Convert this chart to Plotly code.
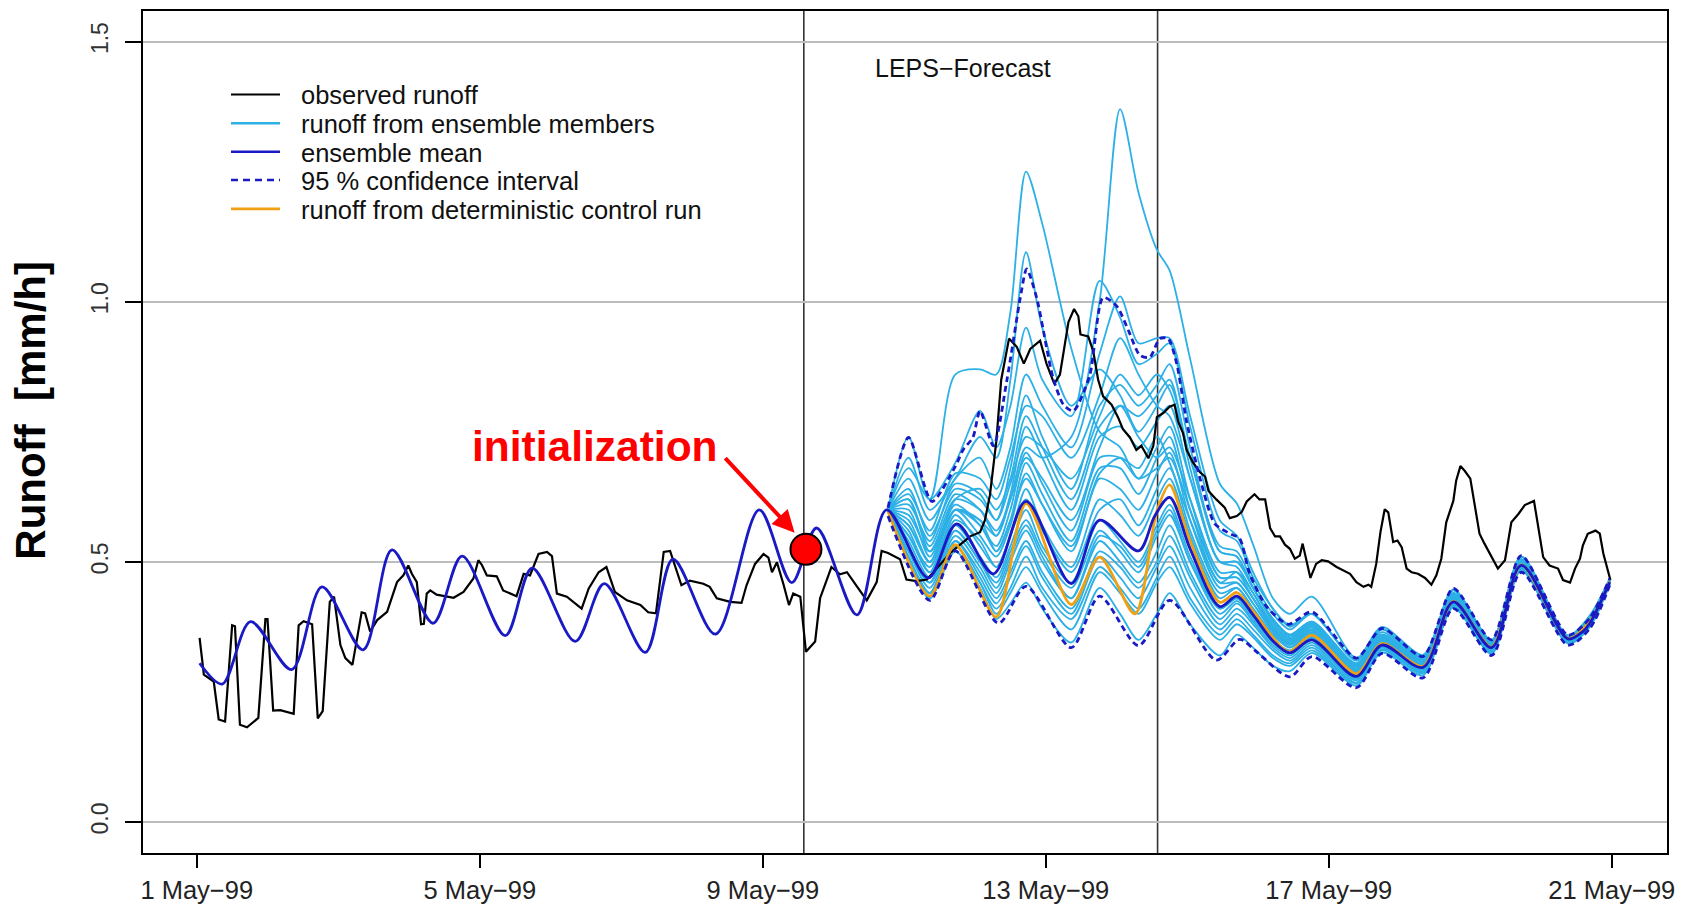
import plotly.graph_objects as go

# ---------------- data (x = days since 1 May 1999 00:00) ----------------
obs_days = [0.04, 0.10, 0.24, 0.31, 0.40, 0.50, 0.54, 0.61, 0.71, 0.87, 0.97, 1.00, 1.08, 1.18, 1.37, 1.44, 1.51, 1.63,
            1.71, 1.78, 1.88, 1.94, 2.03, 2.10, 2.20, 2.29, 2.33, 2.38, 2.45, 2.55, 2.69, 2.83, 2.92, 2.99, 3.04, 3.11,
            3.17, 3.21, 3.25, 3.30, 3.39, 3.63, 3.77, 3.91, 3.98, 4.03, 4.10, 4.24, 4.33, 4.52, 4.62, 4.71, 4.83, 4.95,
            5.02, 5.09, 5.23, 5.44, 5.54, 5.68, 5.79, 5.91, 6.08, 6.27, 6.38, 6.49, 6.60, 6.69, 6.74, 6.85, 6.97, 7.16,
            7.25, 7.35, 7.54, 7.70, 7.77, 7.89, 8.01, 8.08, 8.13, 8.20, 8.29, 8.37, 8.43, 8.53, 8.61, 8.74, 8.81, 8.97,
            9.09, 9.19, 9.33, 9.47, 9.61, 9.68, 9.77, 9.94, 10.03, 10.17, 10.32, 10.50, 10.65, 10.79, 10.93, 11.07,
            11.14, 11.21, 11.30, 11.37, 11.48, 11.59, 11.69, 11.78, 11.85, 11.92, 12.01, 12.12, 12.20, 12.32, 12.40,
            12.46, 12.49, 12.60, 12.67, 12.74, 12.81, 12.93, 13.02, 13.09, 13.19, 13.28, 13.35, 13.45, 13.52, 13.57,
            13.66, 13.75, 13.82, 13.87, 13.94, 13.99, 14.08, 14.18, 14.25, 14.30, 14.41, 14.53, 14.60, 14.70, 14.77,
            14.84, 14.95, 15.02, 15.10, 15.17, 15.24, 15.31, 15.38, 15.45, 15.52, 15.59, 15.63, 15.68, 15.74, 15.82,
            15.90, 15.99, 16.11, 16.30, 16.39, 16.49, 16.56, 16.60, 16.67, 16.73, 16.79, 16.84, 16.91, 16.97, 17.03,
            17.10, 17.17, 17.26, 17.36, 17.45, 17.52, 17.59, 17.66, 17.76, 17.80, 17.86, 17.92, 18.00, 18.06, 18.13,
            18.20, 18.30, 18.39, 18.49, 18.58, 18.68, 18.77, 18.90, 18.96, 19.03, 19.12, 19.24, 19.31, 19.41, 19.48,
            19.55, 19.59, 19.66, 19.77, 19.83, 19.88, 19.93, 19.98]
obs_runoff = [0.354, 0.283, 0.270, 0.197, 0.193, 0.378, 0.376, 0.187, 0.182, 0.200, 0.390, 0.390, 0.214, 0.215, 0.208,
              0.378, 0.386, 0.380, 0.199, 0.213, 0.423, 0.433, 0.340, 0.315, 0.302, 0.378, 0.403, 0.401, 0.366, 0.388,
              0.404, 0.461, 0.474, 0.493, 0.477, 0.461, 0.380, 0.381, 0.439, 0.445, 0.437, 0.431, 0.442, 0.468, 0.503,
              0.494, 0.474, 0.472, 0.445, 0.434, 0.477, 0.474, 0.515, 0.519, 0.511, 0.439, 0.433, 0.410, 0.449, 0.480,
              0.490, 0.442, 0.426, 0.417, 0.403, 0.401, 0.519, 0.521, 0.500, 0.455, 0.464, 0.458, 0.452, 0.430, 0.423,
              0.421, 0.455, 0.496, 0.515, 0.508, 0.480, 0.499, 0.458, 0.417, 0.439, 0.433, 0.327, 0.347, 0.430, 0.490,
              0.476, 0.480, 0.453, 0.426, 0.461, 0.521, 0.517, 0.505, 0.466, 0.463, 0.466, 0.493, 0.517, 0.533, 0.549,
              0.557, 0.580, 0.628, 0.731, 0.850, 0.929, 0.913, 0.881, 0.909, 0.917, 0.925, 0.881, 0.842, 0.860, 0.961,
              0.986, 0.972, 0.937, 0.933, 0.905, 0.850, 0.818, 0.802, 0.778, 0.755, 0.739, 0.715, 0.723, 0.699, 0.723,
              0.778, 0.786, 0.798, 0.802, 0.770, 0.747, 0.715, 0.691, 0.672, 0.664, 0.636, 0.620, 0.604, 0.584, 0.588,
              0.596, 0.616, 0.630, 0.620, 0.620, 0.565, 0.549, 0.549, 0.533, 0.525, 0.506, 0.512, 0.535, 0.506, 0.469,
              0.496, 0.503, 0.501, 0.490, 0.477, 0.461, 0.452, 0.456, 0.452, 0.496, 0.557, 0.601, 0.595, 0.538, 0.541,
              0.528, 0.487, 0.480, 0.477, 0.469, 0.456, 0.474, 0.506, 0.576, 0.617, 0.656, 0.684, 0.675, 0.660, 0.614,
              0.554, 0.535, 0.509, 0.487, 0.503, 0.576, 0.592, 0.609, 0.617, 0.566, 0.509, 0.493, 0.487, 0.465, 0.460,
              0.487, 0.506, 0.531, 0.554, 0.560, 0.554, 0.516, 0.493, 0.465]

mean_days = [0.04, 0.36, 0.76, 1.34, 1.77, 2.35, 2.76, 3.34, 3.75, 4.36, 4.74, 5.35, 5.76, 6.34, 6.73, 7.33, 7.95,
             8.41, 8.76, 9.33, 9.75, 10.34, 10.74, 11.26, 11.72, 12.36, 12.76, 13.31, 13.54, 13.75, 14.04, 14.46,
             14.70, 14.93, 15.21, 15.45, 15.76, 16.39, 16.75, 17.33, 17.76, 18.30, 18.72, 19.38, 19.59, 19.69, 19.97]
mean_runoff = [0.305, 0.265, 0.385, 0.293, 0.452, 0.331, 0.523, 0.382, 0.511, 0.358, 0.488, 0.347, 0.458, 0.326,
               0.505, 0.361, 0.600, 0.460, 0.565, 0.398, 0.600, 0.469, 0.573, 0.477, 0.616, 0.458, 0.580, 0.521,
               0.588, 0.624, 0.525, 0.414, 0.434, 0.398, 0.348, 0.325, 0.350, 0.280, 0.340, 0.297, 0.423, 0.335,
               0.493, 0.352, 0.366, 0.382, 0.461]

ci_upper_days = [9.77, 10.06, 10.39, 10.72, 10.83, 10.97, 11.07, 11.26, 11.45, 11.64, 11.73, 11.87, 12.10, 12.25,
                 12.39, 12.62, 12.81, 13.00, 13.17, 13.33, 13.47, 13.61, 13.73, 13.85, 13.99, 14.18, 14.39, 14.62,
                 14.74, 14.88, 15.12, 15.43, 15.76, 16.39, 16.75, 17.33, 17.76, 18.30, 18.72, 19.38, 19.69, 19.97]
ci_upper = [0.604, 0.739, 0.616, 0.683, 0.715, 0.739, 0.790, 0.723, 0.849, 1.008, 1.063, 1.008, 0.855, 0.802,
            0.790, 0.858, 1.008, 0.992, 0.944, 0.897, 0.893, 0.929, 0.929, 0.881, 0.770, 0.660, 0.573, 0.553,
            0.545, 0.478, 0.414, 0.380, 0.404, 0.315, 0.372, 0.318, 0.449, 0.350, 0.512, 0.359, 0.392, 0.468]

ci_lower_days = [9.77, 10.36, 10.72, 11.33, 11.72, 12.36, 12.76, 13.31, 13.75, 14.41, 14.74, 14.98, 15.45, 15.76,
                 16.39, 16.75, 17.33, 17.76, 18.30, 18.72, 19.38, 19.69, 19.97]
ci_lower = [0.588, 0.426, 0.521, 0.382, 0.453, 0.335, 0.434, 0.339, 0.426, 0.311, 0.351, 0.327, 0.279, 0.318,
            0.258, 0.324, 0.277, 0.410, 0.320, 0.480, 0.340, 0.372, 0.455]

control_days = [9.77, 10.36, 10.72, 11.30, 11.72, 12.36, 12.76, 13.26, 13.57, 13.75, 14.04, 14.46, 14.70, 14.93,
                15.43, 15.76, 16.39, 16.75, 17.33, 17.76, 18.30, 18.72, 19.38, 19.69, 19.97]
control_runoff = [0.597, 0.434, 0.533, 0.394, 0.612, 0.418, 0.509, 0.400, 0.598, 0.648, 0.540, 0.422, 0.441, 0.405,
                  0.327, 0.359, 0.285, 0.343, 0.299, 0.424, 0.336, 0.494, 0.353, 0.386, 0.462]

member_days = [9.77, 10.06, 10.36, 10.72, 11.07, 11.30, 11.50, 11.72, 11.95, 12.36, 12.76, 13.05, 13.31, 13.57,
               13.75, 14.04, 14.46, 14.70, 14.93, 15.21, 15.45, 15.76, 16.39, 16.75, 17.33, 17.76, 18.30, 18.72,
               19.38, 19.69, 19.97]
ensemble_members = [
    [0.60, 0.62, 0.52, 0.60, 0.58, 0.55, 0.62, 0.72, 0.70, 0.74, 1.00, 1.37, 1.21, 1.10, 1.06, 0.89, 0.65, 0.612, 0.533, 0.43, 0.40, 0.433, 0.315, 0.375, 0.321, 0.44, 0.345, 0.505, 0.355, 0.39, 0.465],
    [0.60, 0.68, 0.62, 0.86, 0.87, 0.86, 0.98, 1.25, 1.15, 0.91, 0.75, 0.72, 0.66, 0.68, 0.70, 0.60, 0.47, 0.47, 0.43, 0.37, 0.345, 0.37, 0.29, 0.35, 0.305, 0.43, 0.34, 0.50, 0.355, 0.39, 0.463],
    [0.60, 0.70, 0.60, 0.66, 0.74, 0.70, 0.85, 1.095, 0.95, 0.80, 0.87, 0.82, 0.75, 0.80, 0.84, 0.70, 0.53, 0.52, 0.46, 0.40, 0.37, 0.40, 0.31, 0.365, 0.315, 0.445, 0.348, 0.51, 0.358, 0.395, 0.466],
    [0.60, 0.74, 0.62, 0.69, 0.79, 0.72, 0.80, 0.95, 0.85, 0.78, 1.04, 0.97, 0.88, 0.90, 0.92, 0.76, 0.56, 0.54, 0.47, 0.41, 0.375, 0.40, 0.312, 0.37, 0.317, 0.447, 0.349, 0.51, 0.358, 0.397, 0.467],
    [0.60, 0.66, 0.58, 0.66, 0.70, 0.64, 0.72, 0.86, 0.80, 0.72, 0.90, 1.01, 0.92, 0.93, 0.93, 0.78, 0.58, 0.55, 0.48, 0.41, 0.378, 0.40, 0.312, 0.37, 0.317, 0.446, 0.349, 0.51, 0.358, 0.396, 0.467],
    [0.60, 0.64, 0.55, 0.64, 0.62, 0.58, 0.68, 0.82, 0.74, 0.64, 0.80, 0.84, 0.80, 0.84, 0.88, 0.72, 0.52, 0.51, 0.45, 0.39, 0.36, 0.385, 0.305, 0.36, 0.312, 0.44, 0.345, 0.505, 0.355, 0.392, 0.464],
    [0.60, 0.62, 0.53, 0.63, 0.60, 0.55, 0.63, 0.76, 0.70, 0.60, 0.74, 0.76, 0.72, 0.77, 0.80, 0.66, 0.50, 0.49, 0.44, 0.38, 0.352, 0.378, 0.30, 0.355, 0.308, 0.436, 0.342, 0.502, 0.354, 0.39, 0.463],
    [0.60, 0.60, 0.51, 0.61, 0.57, 0.53, 0.60, 0.71, 0.65, 0.56, 0.70, 0.70, 0.66, 0.72, 0.76, 0.62, 0.47, 0.47, 0.43, 0.37, 0.345, 0.37, 0.295, 0.352, 0.305, 0.432, 0.34, 0.50, 0.353, 0.388, 0.462],
    [0.60, 0.58, 0.50, 0.60, 0.55, 0.51, 0.57, 0.67, 0.61, 0.52, 0.66, 0.64, 0.60, 0.67, 0.71, 0.58, 0.45, 0.46, 0.42, 0.365, 0.34, 0.365, 0.29, 0.348, 0.302, 0.43, 0.338, 0.498, 0.352, 0.386, 0.462],
    [0.60, 0.56, 0.48, 0.59, 0.53, 0.49, 0.55, 0.64, 0.57, 0.49, 0.62, 0.59, 0.55, 0.62, 0.66, 0.55, 0.43, 0.45, 0.41, 0.36, 0.335, 0.36, 0.285, 0.345, 0.30, 0.427, 0.336, 0.496, 0.351, 0.385, 0.461],
    [0.60, 0.54, 0.47, 0.57, 0.51, 0.47, 0.53, 0.60, 0.53, 0.46, 0.58, 0.54, 0.50, 0.57, 0.61, 0.51, 0.41, 0.43, 0.40, 0.35, 0.328, 0.355, 0.282, 0.342, 0.298, 0.425, 0.335, 0.494, 0.35, 0.384, 0.46],
    [0.60, 0.52, 0.45, 0.55, 0.49, 0.44, 0.50, 0.56, 0.50, 0.43, 0.54, 0.50, 0.46, 0.52, 0.57, 0.48, 0.39, 0.42, 0.385, 0.34, 0.32, 0.35, 0.278, 0.34, 0.295, 0.422, 0.333, 0.492, 0.349, 0.383, 0.46],
    [0.60, 0.51, 0.44, 0.54, 0.47, 0.42, 0.47, 0.53, 0.47, 0.40, 0.51, 0.47, 0.43, 0.49, 0.53, 0.45, 0.37, 0.40, 0.37, 0.33, 0.31, 0.34, 0.272, 0.335, 0.29, 0.418, 0.33, 0.489, 0.347, 0.38, 0.459],
    [0.60, 0.50, 0.43, 0.53, 0.46, 0.40, 0.44, 0.49, 0.44, 0.37, 0.48, 0.44, 0.40, 0.46, 0.49, 0.42, 0.35, 0.38, 0.355, 0.315, 0.30, 0.33, 0.266, 0.33, 0.286, 0.415, 0.326, 0.486, 0.345, 0.378, 0.458],
    [0.60, 0.50, 0.43, 0.52, 0.45, 0.39, 0.42, 0.46, 0.41, 0.345, 0.45, 0.40, 0.35, 0.40, 0.44, 0.38, 0.32, 0.36, 0.335, 0.30, 0.29, 0.325, 0.262, 0.326, 0.282, 0.412, 0.323, 0.483, 0.343, 0.375, 0.457],
    [0.60, 0.55, 0.49, 0.60, 0.58, 0.52, 0.58, 0.69, 0.63, 0.54, 0.68, 0.68, 0.63, 0.70, 0.74, 0.60, 0.46, 0.48, 0.44, 0.375, 0.35, 0.375, 0.298, 0.355, 0.307, 0.434, 0.341, 0.50, 0.354, 0.389, 0.463],
    [0.60, 0.57, 0.50, 0.62, 0.64, 0.60, 0.66, 0.78, 0.72, 0.62, 0.76, 0.80, 0.78, 0.82, 0.85, 0.68, 0.50, 0.50, 0.45, 0.385, 0.355, 0.38, 0.302, 0.358, 0.31, 0.438, 0.343, 0.503, 0.355, 0.391, 0.464],
    [0.60, 0.53, 0.46, 0.56, 0.50, 0.46, 0.52, 0.58, 0.52, 0.45, 0.56, 0.52, 0.48, 0.55, 0.59, 0.50, 0.40, 0.425, 0.39, 0.345, 0.325, 0.352, 0.28, 0.341, 0.297, 0.424, 0.334, 0.493, 0.35, 0.383, 0.46],
    [0.60, 0.63, 0.56, 0.67, 0.66, 0.62, 0.70, 0.80, 0.78, 0.70, 0.82, 0.93, 0.86, 0.80, 0.78, 0.66, 0.50, 0.50, 0.45, 0.39, 0.36, 0.385, 0.305, 0.36, 0.311, 0.44, 0.344, 0.504, 0.355, 0.392, 0.464],
    [0.60, 0.61, 0.54, 0.65, 0.63, 0.58, 0.65, 0.74, 0.72, 0.66, 0.78, 0.86, 0.82, 0.86, 0.83, 0.70, 0.52, 0.51, 0.45, 0.39, 0.358, 0.382, 0.303, 0.358, 0.31, 0.438, 0.343, 0.503, 0.355, 0.391, 0.464],
    [0.60, 0.59, 0.52, 0.62, 0.60, 0.56, 0.62, 0.70, 0.66, 0.58, 0.72, 0.80, 0.74, 0.70, 0.72, 0.62, 0.48, 0.48, 0.43, 0.375, 0.348, 0.374, 0.298, 0.354, 0.307, 0.435, 0.342, 0.501, 0.354, 0.389, 0.463],
    [0.60, 0.57, 0.50, 0.60, 0.57, 0.52, 0.58, 0.66, 0.61, 0.53, 0.67, 0.70, 0.68, 0.74, 0.69, 0.58, 0.46, 0.46, 0.42, 0.368, 0.342, 0.368, 0.292, 0.35, 0.304, 0.432, 0.34, 0.499, 0.353, 0.387, 0.462],
    [0.60, 0.55, 0.48, 0.58, 0.54, 0.49, 0.55, 0.62, 0.56, 0.48, 0.60, 0.62, 0.57, 0.64, 0.68, 0.56, 0.44, 0.45, 0.41, 0.36, 0.336, 0.362, 0.288, 0.347, 0.301, 0.429, 0.338, 0.497, 0.352, 0.386, 0.461],
    [0.60, 0.52, 0.46, 0.56, 0.50, 0.45, 0.51, 0.57, 0.51, 0.43, 0.55, 0.53, 0.49, 0.56, 0.60, 0.50, 0.41, 0.43, 0.395, 0.35, 0.33, 0.355, 0.283, 0.343, 0.298, 0.426, 0.336, 0.495, 0.351, 0.384, 0.46],
    [0.60, 0.50, 0.44, 0.54, 0.48, 0.43, 0.48, 0.54, 0.48, 0.41, 0.52, 0.49, 0.45, 0.50, 0.55, 0.47, 0.38, 0.41, 0.38, 0.335, 0.315, 0.345, 0.275, 0.338, 0.293, 0.42, 0.332, 0.49, 0.348, 0.381, 0.459],
    [0.60, 0.51, 0.44, 0.53, 0.46, 0.41, 0.45, 0.51, 0.45, 0.39, 0.49, 0.45, 0.41, 0.47, 0.51, 0.43, 0.36, 0.39, 0.36, 0.32, 0.305, 0.335, 0.268, 0.332, 0.288, 0.416, 0.328, 0.487, 0.346, 0.379, 0.458],
]

init_day = [8.61]
init_runoff = [0.524]
forecast_window = [8.58, 13.58]

tick_days = [0, 4, 8, 12, 16, 20]
tick_labels = ["1 May\u221299", "5 May\u221299", "9 May\u221299", "13 May\u221299", "17 May\u221299", "21 May\u221299"]

legend_labels = ["observed runoff", "runoff from ensemble members", "ensemble mean",
                 "95 % confidence interval", "runoff from deterministic control run"]

# ---------------- style ----------------
FONT = "Liberation Sans, Arial, Helvetica, sans-serif"
C_OBS = "#000000"
C_MEM = "#2CB0E6"
C_MEAN = "#1A1AC4"
C_CTRL = "#F0A010"

# The page body keeps its default 8px margin, so the figure is sized to fit the
# 1684x913 window exactly; all positions below are given in window pixels.
BODY = 8
W, H = 1684 - 2 * BODY, 913 - 2 * BODY
PLOT_L, PLOT_R, PLOT_T, PLOT_B = 143, 1667, 9, 856   # plot area in window pixels
ML, MR, MT, MB = PLOT_L - BODY, (W + BODY) - PLOT_R, PLOT_T - BODY, (H + BODY) - PLOT_B


def px_x(X):
    return (X - PLOT_L) / (PLOT_R - PLOT_L)


def px_y(Y):
    return (PLOT_B - Y) / (PLOT_B - PLOT_T)


fig = go.Figure()

for m in ensemble_members:
    fig.add_trace(go.Scatter(x=member_days, y=m, mode="lines",
                             line=dict(color=C_MEM, width=1.8, shape="spline", smoothing=0.8),
                             showlegend=False, hoverinfo="skip"))

fig.add_trace(go.Scatter(x=obs_days, y=obs_runoff, mode="lines",
                         line=dict(color=C_OBS, width=2.2), showlegend=False))
fig.add_trace(go.Scatter(x=control_days, y=control_runoff, mode="lines",
                         line=dict(color=C_CTRL, width=2.8, shape="spline", smoothing=0.8), showlegend=False))
fig.add_trace(go.Scatter(x=ci_upper_days, y=ci_upper, mode="lines",
                         line=dict(color=C_MEAN, width=2.8, dash="6px,4px", shape="spline", smoothing=0.7),
                         showlegend=False))
fig.add_trace(go.Scatter(x=ci_lower_days, y=ci_lower, mode="lines",
                         line=dict(color=C_MEAN, width=2.8, dash="6px,4px", shape="spline", smoothing=0.8),
                         showlegend=False))
fig.add_trace(go.Scatter(x=mean_days, y=mean_runoff, mode="lines",
                         line=dict(color=C_MEAN, width=2.8, shape="spline", smoothing=0.9), showlegend=False))
fig.add_trace(go.Scatter(x=init_day, y=init_runoff, mode="markers",
                         marker=dict(size=31, color="#FF0000", line=dict(color="black", width=2)),
                         showlegend=False))

# forecast window lines
for d in forecast_window:
    fig.add_shape(type="line", xref="x", yref="paper", x0=d, x1=d, y0=0, y1=1,
                  line=dict(color="#333333", width=1.6), layer="below")

# manual legend (R-style, no box)
legend_rows = [93, 122, 150.5, 179, 208]
legend_styles = [dict(color=C_OBS, width=2), dict(color=C_MEM, width=2.5), dict(color=C_MEAN, width=2.5),
                 dict(color=C_MEAN, width=2.5, dash="7px,5px"), dict(color=C_CTRL, width=2.8)]
for lab, row, sty in zip(legend_labels, legend_rows, legend_styles):
    fig.add_shape(type="line", xref="paper", yref="paper", x0=px_x(231), x1=px_x(280),
                  y0=px_y(row), y1=px_y(row), line=sty)
    fig.add_annotation(xref="paper", yref="paper", x=px_x(299), y=px_y(row + 1), text=lab,
                       showarrow=False, xanchor="left", yanchor="middle",
                       font=dict(family=FONT, size=25.5, color="#111111"))

fig.add_annotation(x=10.83, y=1.449, text="LEPS\u2212Forecast", showarrow=False,
                   font=dict(family=FONT, size=25, color="#111111"))

fig.add_annotation(x=7.40, y=0.722, text="<b>initialization</b>", showarrow=False,
                   xanchor="right", yanchor="middle",
                   font=dict(family=FONT, size=42.5, color="#FF0000"))
fig.add_annotation(x=8.45, y=0.556, ax=7.45, ay=0.702, axref="x", ayref="y", xref="x", yref="y",
                   text="", showarrow=True, arrowhead=2, arrowsize=1.1, arrowwidth=4, arrowcolor="#FF0000")

fig.add_annotation(xref="paper", yref="paper", x=px_x(31), y=px_y(411), text="<b>Runoff  [mm/h]</b>",
                   textangle=-90, showarrow=False, xanchor="center", yanchor="middle",
                   font=dict(family=FONT, size=42, color="#000000"))

# y range: 0.0 at window y 824.8 and 1.5 at window y 39.7
y_per_px = 1.5 / (824.8 - 39.7)
y_range = [-(PLOT_B - 824.8) * y_per_px, 1.5 + (39.7 - PLOT_T) * y_per_px]

fig.update_layout(
    width=W, height=H,
    margin=dict(l=ML, r=MR, t=MT, b=MB, pad=0),
    plot_bgcolor="white", paper_bgcolor="white",
    showlegend=False,
    font=dict(family=FONT, color="#222222"),
    xaxis=dict(range=[-0.76, 20.78], tickvals=tick_days, ticktext=tick_labels,
               showgrid=False, zeroline=False, showline=True, mirror=True, linecolor="black", linewidth=2,
               ticks="outside", ticklen=13, tickwidth=2, tickcolor="black",
               tickfont=dict(family=FONT, size=25.5, color="#222222"), ticklabelstandoff=0),
    yaxis=dict(range=y_range, tickvals=[0, 0.5, 1.0, 1.5], tickformat=".1f",
               showgrid=True, gridcolor="#BDBDBD", gridwidth=2, zeroline=False,
               showline=True, mirror=True, linecolor="black", linewidth=2,
               ticks="outside", ticklen=16, tickwidth=2, tickcolor="black", tickangle=-90,
               tickfont=dict(family=FONT, size=23, color="#333333"), ticklabelstandoff=8),
)

fig.write_html("out.html", config={"displayModeBar": False})
